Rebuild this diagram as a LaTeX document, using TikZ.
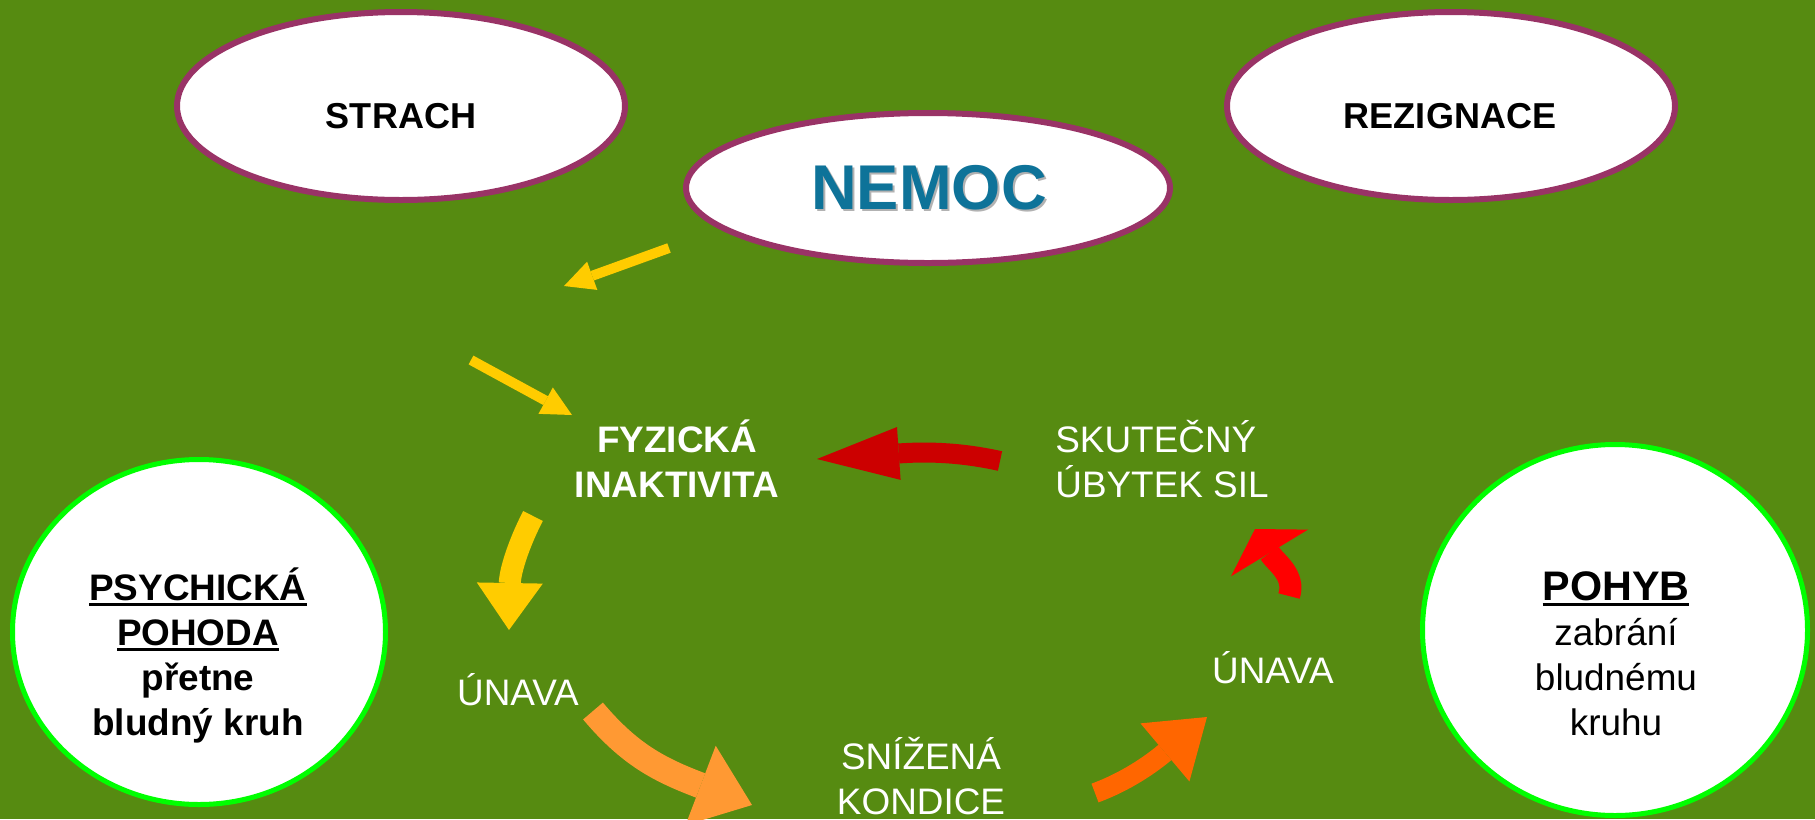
\documentclass[tikz,border=0pt]{standalone}
\usepackage{fontspec}
\setmainfont{Liberation Sans}
\usetikzlibrary{arrows.meta,shapes.geometric}
\tikzset{>=Triangle}
\definecolor{field}{RGB}{86,139,17}
\definecolor{ovalplum}{RGB}{153,51,102}
\definecolor{ringlime}{RGB}{0,255,0}
\definecolor{nemocblue}{RGB}{14,115,153}
\definecolor{sunyellow}{RGB}{255,204,0}
\definecolor{softorange}{RGB}{255,153,51}
\definecolor{hotorange}{RGB}{255,102,0}
\definecolor{brightred}{RGB}{255,0,0}
\definecolor{deepred}{RGB}{204,0,0}
\newcommand{\pxu}{0.02cm}
\newsavebox{\undlbox}
\newcommand{\undl}[1]{\sbox{\undlbox}{#1}\rlap{\rule[-3.5pt]{\wd\undlbox}{1.6pt}}\usebox{\undlbox}}
\tikzset{
  oval/.style={ellipse, draw=ovalplum, line width=0.12cm, fill=white, inner sep=0pt},
  ring/.style={ellipse, draw=ringlime, line width=0.1cm, fill=white, inner sep=0pt},
  word/.style={text=white, font=\fontsize{21}{25.6}\selectfont, inner sep=0pt, anchor=base, align=center},
  bword/.style={word, font=\fontsize{21}{25.6}\selectfont\bfseries},
  ink/.style={word, text=black},
  blk/.style args={#1/#2/#3/#4}{draw=#1, line width=#2, line cap=butt,
    -{Triangle[width=#3, length=#4, line width=0pt]}}
}

\begin{document}
\begin{tikzpicture}[x=0.02cm,y=-0.02cm]
  \fill[field] (0,0) rectangle (1815,819);
  \useasboundingbox (0,0) rectangle (1815,819);

  \node[oval, minimum width=448*\pxu, minimum height=188*\pxu] (strachoval) at (401,106) {};
  \node[oval, minimum width=448*\pxu, minimum height=188*\pxu] (rezignaceoval) at (1451,106) {};
  \node[oval, minimum width=484*\pxu, minimum height=150*\pxu] (nemocoval) at (928,188) {};
  \node[ring, minimum width=373*\pxu, minimum height=345*\pxu] (pohodaring) at (199,632) {};
  \node[ring, minimum width=385*\pxu, minimum height=371*\pxu] (pohybring) at (1615,630) {};

  \node[ink, font=\fontsize{20.5}{25}\selectfont\bfseries] (strach) at (401,128) {STRACH};
  \node[ink, font=\fontsize{20.5}{25}\selectfont\bfseries] (rezignace) at (1450,128) {REZIGNACE};
  \node[word, text=black!30, font=\fontsize{36}{40}\selectfont\bfseries] (nemocshade) at (931,211) {NEMOC};
  \node[word, text=nemocblue, font=\fontsize{36}{40}\selectfont\bfseries] (nemoc) at (929,209) {NEMOC};

  \node[bword] (fyzicka) at (677,497) {FYZICKÁ\\INAKTIVITA};
  \node[word, anchor=base west, align=left] (ubytek) at (1055,497) {SKUTEČNÝ\\ÚBYTEK SIL};
  \node[word] (unavaleft) at (518,705) {ÚNAVA};
  \node[word] (unavaright) at (1273,683) {ÚNAVA};
  \node[word] (kondice) at (921,814) {SNÍŽENÁ\\KONDICE};
  \node[ink, font=\fontsize{21}{25.6}\selectfont\bfseries] (pohoda) at (198,735)
    {\undl{PSYCHICKÁ}\\\undl{POHODA}\\přetne\\bludný kruh};
  \node[ink] (pohyb) at (1616,735)
    {{\fontsize{23.5}{25.6}\selectfont\bfseries\undl{POHYB}}\\zabrání\\bludnému\\kruhu};

  \coordinate (ya) at (669,248);
  \coordinate (yb) at (564,286);
  \coordinate (yc) at (471,360);
  \coordinate (yd) at (572,415);
  \coordinate (fa) at (533,516);
  \coordinate (fb) at (509,630);
  \coordinate (oa) at (593,711);
  \coordinate (ob) at (752,805);
  \coordinate (ha) at (1095,793);
  \coordinate (hb) at (1207,717);
  \coordinate (ra) at (1289,596);
  \coordinate (rb) at (1255,529);
  \coordinate (da) at (1000,461);
  \coordinate (db) at (817,459);

  \draw[blk={sunyellow/0.2cm/0.6cm/0.6cm}] (ya) -- (yb);
  \draw[blk={sunyellow/0.2cm/0.6cm/0.6cm}] (yc) -- (yd);
  \draw[blk={sunyellow/0.44cm/1.32cm/0.94cm}] (fa) .. controls (518,545) and (510,572) .. (fb);
  \draw[blk={softorange/0.52cm/1.7cm/1.1cm}] (oa) .. controls (630,755) and (660,770) .. (ob);
  \draw[blk={hotorange/0.4cm/1.52cm/1.1cm}] (ha) .. controls (1125,782) and (1150,765) .. (hb);
  \draw[blk={brightred/0.44cm/1.8cm/0.56cm}] (ra) .. controls (1296,575) and (1275,562) .. (rb);
  \draw[blk={deepred/0.4cm/1.06cm/1.64cm}] (da) .. controls (955,451) and (920,452) .. (db);
\end{tikzpicture}
\end{document}
